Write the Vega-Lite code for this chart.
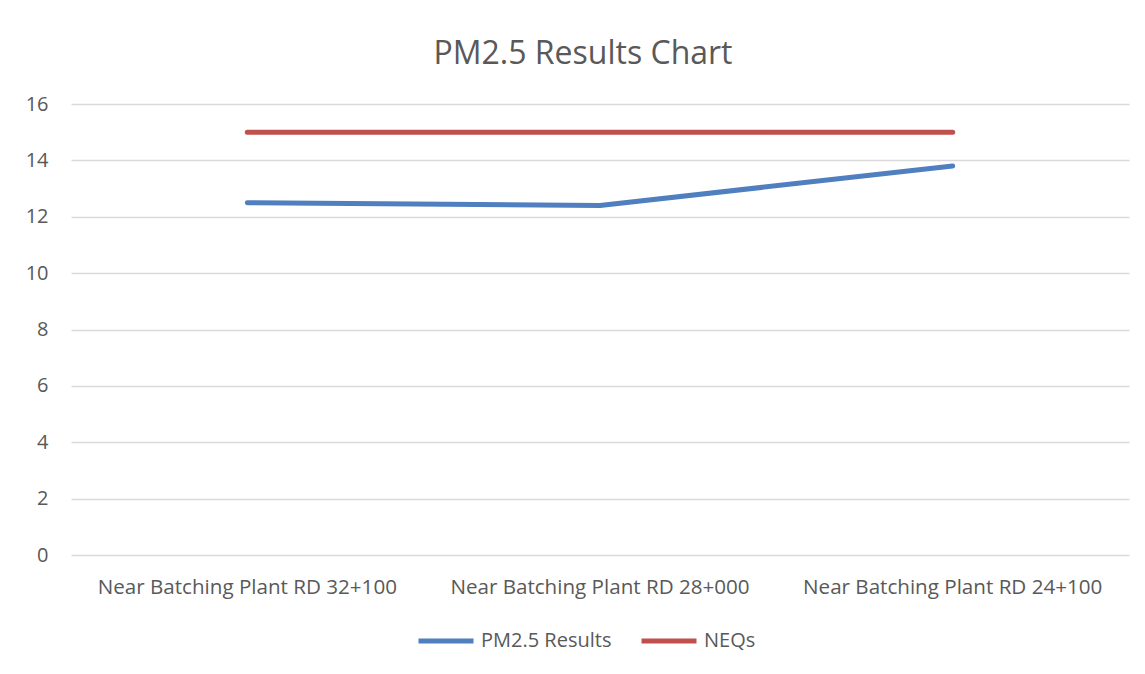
{
  "$schema": "https://vega.github.io/schema/vega-lite/v6.json",
  "width": 1058,
  "height": 451,
  "autosize": {"type": "none"},
  "padding": {"left": 71, "top": 104, "right": 16, "bottom": 119},
  "background": "white",
  "title": {
    "text": "PM2.5 Results Chart",
    "font": "Open Sans",
    "fontSize": 32,
    "fontWeight": "normal",
    "color": "#595959",
    "anchor": "middle",
    "baseline": "alphabetic",
    "offset": -2,
    "dx": -17
  },
  "data": {
    "values": [
      {"location": "Near Batching Plant RD 32+100", "series": "PM2.5 Results", "value": 12.5},
      {"location": "Near Batching Plant RD 28+000", "series": "PM2.5 Results", "value": 12.4},
      {"location": "Near Batching Plant RD 24+100", "series": "PM2.5 Results", "value": 13.8},
      {"location": "Near Batching Plant RD 32+100", "series": "NEQs", "value": 15},
      {"location": "Near Batching Plant RD 28+000", "series": "NEQs", "value": 15},
      {"location": "Near Batching Plant RD 24+100", "series": "NEQs", "value": 15}
    ]
  },
  "mark": {"type": "line", "strokeWidth": 5, "strokeCap": "round", "strokeJoin": "round"},
  "encoding": {
    "x": {
      "field": "location",
      "type": "nominal",
      "sort": null,
      "scale": {"type": "band", "paddingInner": 0, "paddingOuter": 0},
      "axis": {
        "title": null,
        "labelAngle": 0,
        "labelFont": "Open Sans",
        "labelFontSize": 20.6,
        "labelColor": "#595959",
        "labelPadding": 22,
        "labelLimit": 400,
        "ticks": false,
        "domain": false,
        "grid": false
      }
    },
    "y": {
      "field": "value",
      "type": "quantitative",
      "scale": {"domain": [0, 16]},
      "axis": {
        "title": null,
        "values": [0, 2, 4, 6, 8, 10, 12, 14, 16],
        "labelFont": "Open Sans",
        "labelFontSize": 20,
        "labelColor": "#595959",
        "labelPadding": 23,
        "ticks": false,
        "domain": false,
        "grid": true,
        "gridColor": "#d9d9d9",
        "gridWidth": 1.5
      }
    },
    "color": {
      "field": "series",
      "type": "nominal",
      "sort": ["PM2.5 Results", "NEQs"],
      "scale": {"domain": ["PM2.5 Results", "NEQs"], "range": ["#4f7fbf", "#c0504d"]},
      "legend": {
        "title": null,
        "orient": "none",
        "direction": "horizontal",
        "legendX": 345,
        "legendY": 507,
        "symbolType": "stroke",
        "symbolSize": 3025,
        "symbolStrokeWidth": 5,
        "labelFont": "Open Sans",
        "labelFontSize": 20,
        "labelColor": "#595959",
        "labelOffset": 5,
        "columnPadding": 19
      }
    }
  },
  "config": {"view": {"stroke": null}}
}
